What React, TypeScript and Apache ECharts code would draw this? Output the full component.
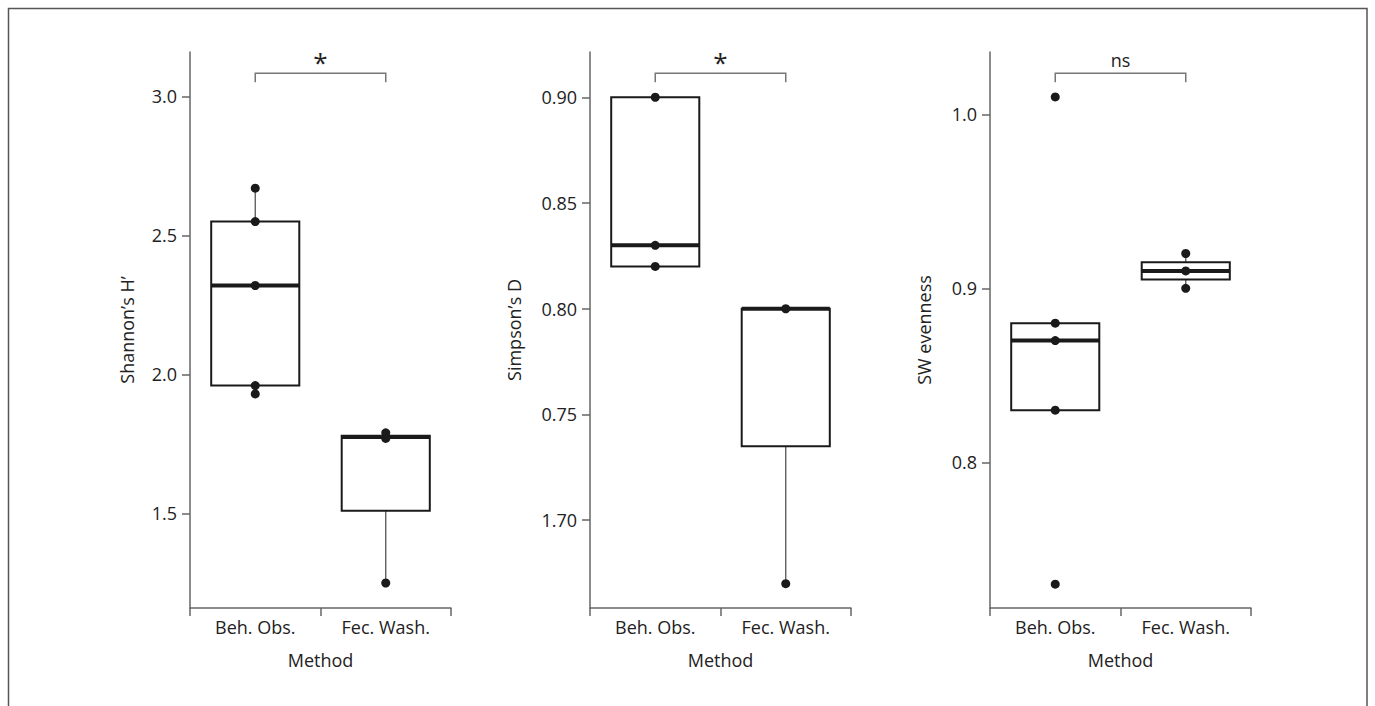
import React, { useEffect, useRef } from "react";
import * as echarts from "echarts";

const categories = ["Beh. Obs.", "Fec. Wash."];
const xAxisName = "Method";
const yAxisNames = ["Shannon’s H’", "Simpson’s D", "SW evenness"];

// [category index, lower whisker, Q1, median, Q3, upper whisker]
const shannonBoxes = [
  [0, 1.93, 1.96, 2.32, 2.55, 2.67],
  [1, 1.25, 1.51, 1.775, 1.78, 1.79],
];
const simpsonBoxes = [
  [0, 0.82, 0.82, 0.83, 0.9, 0.9],
  [1, 0.67, 0.735, 0.8, 0.8, 0.8],
];
const evennessBoxes = [
  [0, 0.83, 0.83, 0.87, 0.88, 0.88],
  [1, 0.9, 0.905, 0.91, 0.915, 0.92],
];

// [category index, value]
const shannonPoints = [
  [0, 2.67], [0, 2.55], [0, 2.32], [0, 1.96], [0, 1.93],
  [1, 1.79], [1, 1.77], [1, 1.25],
];
const simpsonPoints = [
  [0, 0.9], [0, 0.83], [0, 0.82],
  [1, 0.8], [1, 0.67],
];
const evennessPoints = [
  [0, 1.01], [0, 0.88], [0, 0.87], [0, 0.83], [0, 0.73],
  [1, 0.92], [1, 0.91], [1, 0.9],
];

const yMins = [1.16, 0.6585, 0.7163];
const yMaxs = [3.16, 0.9214, 1.0358];
const yTickValues = [
  [1.5, 2.0, 2.5, 3.0],
  [0.7, 0.75, 0.8, 0.85, 0.9],
  [0.8, 0.9, 1.0],
];
const yTickLabels = [
  ["1.5", "2.0", "2.5", "3.0"],
  ["1.70", "0.75", "0.80", "0.85", "0.90"],
  ["0.8", "0.9", "1.0"],
];

// significance brackets: [from category, to category, y value]
const bracketValues = [
  [0, 1, 3.084],
  [0, 1, 0.9113],
  [0, 1, 1.0236],
];
const bracketLabels = ["*", "*", "ns"];

const FONT = '"Open Sans", "DejaVu Sans", sans-serif';
const TEXT = "#222";
const AXIS = "#666";
const INK = "#1a1a1a";

const gridLefts = [190, 590, 990];
const nameGaps = [54, 67, 57];

export default function App() {
  const ref = useRef<HTMLDivElement>(null);

  useEffect(() => {
    if (!ref.current) return;
    const chart = echarts.init(ref.current, undefined, { renderer: "svg" });

    const boxesAll = [shannonBoxes, simpsonBoxes, evennessBoxes];
    const pointsAll = [shannonPoints, simpsonPoints, evennessPoints];

    const boxRender = (params: any, api: any) => {
      const c = api.value(0);
      const bw = api.size([1, 0])[0] * 0.675;
      const pLo = api.coord([c, api.value(1)]);
      const pQ1 = api.coord([c, api.value(2)]);
      const pMed = api.coord([c, api.value(3)]);
      const pQ3 = api.coord([c, api.value(4)]);
      const pHi = api.coord([c, api.value(5)]);
      const x = pQ1[0];
      return {
        type: "group",
        children: [
          {
            type: "line",
            shape: { x1: x, y1: pQ3[1], x2: x, y2: pHi[1] },
            style: { stroke: "#555", lineWidth: 1.3 },
          },
          {
            type: "line",
            shape: { x1: x, y1: pQ1[1], x2: x, y2: pLo[1] },
            style: { stroke: "#555", lineWidth: 1.3 },
          },
          {
            type: "rect",
            shape: { x: x - bw / 2, y: pQ3[1], width: bw, height: pQ1[1] - pQ3[1] },
            style: { fill: "#fff", stroke: INK, lineWidth: 2 },
          },
          {
            type: "line",
            shape: { x1: x - bw / 2, y1: pMed[1], x2: x + bw / 2, y2: pMed[1] },
            style: { stroke: INK, lineWidth: 4 },
          },
        ],
      };
    };

    const makeBracketRender = (label: string) => (params: any, api: any) => {
      const p0 = api.coord([api.value(0), api.value(2)]);
      const p1 = api.coord([api.value(1), api.value(2)]);
      const isStar = label === "*";
      return {
        type: "group",
        children: [
          {
            type: "polyline",
            shape: {
              points: [
                [p0[0], p0[1] + 9],
                [p0[0], p0[1]],
                [p1[0], p1[1]],
                [p1[0], p1[1] + 9],
              ],
            },
            style: { stroke: "#777", lineWidth: 1.5, fill: "none" },
          },
          {
            type: "text",
            style: {
              text: label,
              x: (p0[0] + p1[0]) / 2,
              y: isStar ? p0[1] - 11 : p0[1] - 13,
              align: "center",
              verticalAlign: "middle",
              font: `${isStar ? 26 : 18}px ${FONT}`,
              fill: TEXT,
            },
          },
        ],
      };
    };

    const grids = gridLefts.map((left) => ({
      left,
      top: 52,
      width: 261,
      height: 556,
      containLabel: false,
    }));

    const xAxes = gridLefts.map((_, i) => ({
      type: "category",
      gridIndex: i,
      data: categories,
      boundaryGap: true,
      name: xAxisName,
      nameLocation: "middle",
      nameGap: 43,
      nameTextStyle: { fontFamily: FONT, fontSize: 18, color: TEXT },
      axisLine: { show: true, onZero: false, lineStyle: { color: AXIS, width: 1.5 } },
      axisTick: { show: true, length: 8, lineStyle: { color: AXIS, width: 1.5 } },
      axisLabel: { fontFamily: FONT, fontSize: 18, color: TEXT, margin: 10 },
      splitLine: { show: false },
    }));

    const yAxes = gridLefts.map((_, i) => ({
      type: "value",
      gridIndex: i,
      min: yMins[i],
      max: yMaxs[i],
      name: yAxisNames[i],
      nameLocation: "middle",
      nameRotate: 90,
      nameGap: nameGaps[i],
      nameTextStyle: { fontFamily: FONT, fontSize: 18, color: TEXT },
      axisLine: { show: true, onZero: false, lineStyle: { color: AXIS, width: 1.5 } },
      axisTick: {
        show: true,
        length: 8,
        customValues: yTickValues[i],
        lineStyle: { color: AXIS, width: 1.5 },
      },
      axisLabel: {
        fontFamily: FONT,
        fontSize: 18,
        color: TEXT,
        margin: 13,
        customValues: yTickValues[i],
        formatter: (v: number) => {
          const idx = yTickValues[i].findIndex((t) => Math.abs(t - v) < 1e-9);
          return idx >= 0 ? yTickLabels[i][idx] : "";
        },
      },
      splitLine: { show: false },
    }));

    const series: any[] = [];
    gridLefts.forEach((_, i) => {
      series.push({
        type: "custom",
        coordinateSystem: "cartesian2d",
        xAxisIndex: i,
        yAxisIndex: i,
        data: boxesAll[i],
        encode: { x: 0, y: [1, 2, 3, 4, 5] },
        renderItem: boxRender,
        z: 2,
        silent: true,
      });
      series.push({
        type: "scatter",
        xAxisIndex: i,
        yAxisIndex: i,
        data: pointsAll[i],
        symbol: "circle",
        symbolSize: 9,
        itemStyle: { color: INK, opacity: 1 },
        z: 5,
        silent: true,
      });
      series.push({
        type: "custom",
        coordinateSystem: "cartesian2d",
        xAxisIndex: i,
        yAxisIndex: i,
        data: [bracketValues[i]],
        encode: { x: [0, 1], y: 2 },
        renderItem: makeBracketRender(bracketLabels[i]),
        z: 3,
        silent: true,
      });
    });

    chart.setOption({
      animation: false,
      backgroundColor: "#fff",
      textStyle: { fontFamily: FONT },
      grid: grids,
      xAxis: xAxes,
      yAxis: yAxes,
      series,
      graphic: [
        {
          type: "rect",
          shape: { x: 8.5, y: 8.5, width: 1358.5, height: 720 },
          style: { fill: "none", stroke: "#555", lineWidth: 1.5 },
          z: 0,
          silent: true,
        },
      ],
    });

    return () => chart.dispose();
  }, []);

  return (
    <div
      ref={ref}
      style={{ position: "fixed", left: 0, top: 0, width: 1375, height: 706 }}
    />
  );
}
